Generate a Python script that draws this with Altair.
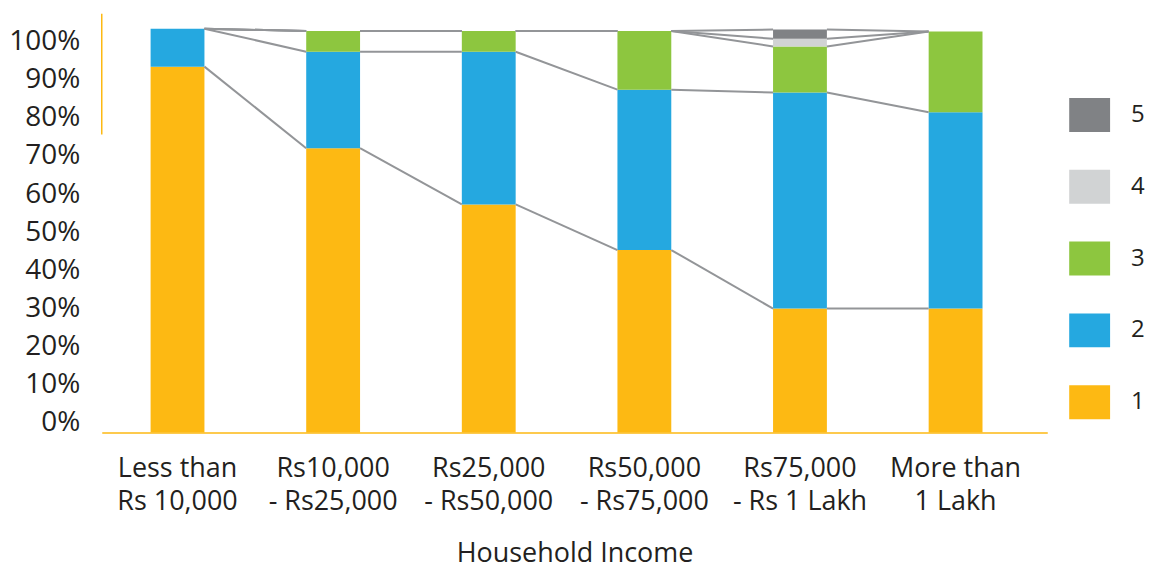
import altair as alt
import pandas as pd

# ---- data ----
categories = [
    "Less than\nRs 10,000",
    "Rs10,000\n- Rs25,000",
    "Rs25,000\n- Rs50,000",
    "Rs50,000\n- Rs75,000",
    "Rs75,000\n- Rs 1 Lakh",
    "More than\n1 Lakh",
]
series_names = ["1", "2", "3", "4", "5"]
s1 = [90.6, 70.4, 56.5, 45.2, 30.7, 30.7]
s2 = [9.4, 23.9, 37.8, 39.7, 53.5, 48.6]
s3 = [0.0, 5.1, 5.1, 14.5, 11.4, 20.0]
s4 = [0.0, 0.0, 0.0, 0.0, 1.9, 0.0]
s5 = [0.0, 0.0, 0.0, 0.0, 2.3, 0.0]
tick_values = [0, 10, 20, 30, 40, 50, 60, 70, 80, 90, 100]
accent_from = [73.8]
accent_to = [103.7]

colors = {"1": "#FDB913", "2": "#25A8E0", "3": "#8DC63F", "4": "#D1D3D4", "5": "#808285"}
all_series = [s1, s2, s3, s4, s5]

rows = []
for i, c in enumerate(categories):
    for k, vals in enumerate(all_series):
        rows.append({"cat": c, "series": series_names[k], "ord": k + 1, "value": vals[i]})
bars_df = pd.DataFrame(rows)

conn = []
for i in range(len(categories) - 1):
    ca = cb = 0.0
    for k, vals in enumerate(all_series):
        ca += vals[i]
        cb += vals[i + 1]
        conn.append({"cat": categories[i], "next": categories[i + 1], "ya": ca, "yb": cb})
conn_df = pd.DataFrame(conn)

FONT = "Open Sans"
TXT = "#231F20"
XTITLE = "Household Income"

xscale = alt.Scale(paddingInner=0.654, paddingOuter=0.365, align=0.43)
yscale = alt.Scale(domain=[0, 100], nice=False, zero=True)
legend_order = ["5", "4", "3", "2", "1"]

xaxis = alt.Axis(
    labelExpr="split(datum.label, '\\n')",
    labelAngle=0,
    ticks=False,
    domainColor="#FDB913",
    domainWidth=1.5,
    labelFont=FONT,
    labelFontSize=27,
    labelColor=TXT,
    labelLineHeight=33,
    labelPadding=23,
    labelLimit=400,
    titleFont=FONT,
    titleFontSize=27,
    titleFontWeight="normal",
    titleColor=TXT,
    titlePadding=26,
)

bars = alt.Chart(bars_df).mark_bar().encode(
    x=alt.X("cat:N", sort=categories, scale=xscale, title=XTITLE, axis=xaxis),
    y=alt.Y("value:Q", stack="zero", scale=yscale, axis=None),
    color=alt.Color(
        "series:N",
        scale=alt.Scale(domain=legend_order, range=[colors[s] for s in legend_order]),
        legend=alt.Legend(
            title=None,
            orient="none",
            legendX=970,
            legendY=66,
            padding=0,
            symbolType="M-1,-0.83H1V0.83H-1Z",
            symbolSize=1681,
            symbolStrokeWidth=0,
            symbolOpacity=1,
            labelFont=FONT,
            labelFontSize=24,
            labelColor=TXT,
            labelOffset=21,
            rowPadding=34,
        ),
    ),
    order=alt.Order("ord:Q", sort="ascending"),
)

rules = alt.Chart(conn_df).mark_rule(color="#939598", strokeWidth=2).encode(
    x=alt.X("cat:N", sort=categories, scale=xscale, bandPosition=1, title=XTITLE, axis=xaxis),
    x2=alt.X2("next:N", bandPosition=0, title=XTITLE),
    y=alt.Y("ya:Q", scale=yscale, axis=None),
    y2=alt.Y2("yb:Q"),
)

accent = alt.Chart(pd.DataFrame({"a": accent_from, "b": accent_to})).mark_rule(
    color="#FDB913", strokeWidth=1.5
).encode(
    x=alt.value(0),
    y=alt.Y("a:Q", scale=yscale, axis=None),
    y2=alt.Y2("b:Q"),
)

labels = alt.Chart(pd.DataFrame({"tick": tick_values})).mark_point(opacity=0).encode(
    y=alt.Y(
        "tick:Q",
        scale=alt.Scale(domain=[-2.6, 103.4], nice=False, zero=False),
        axis=alt.Axis(
            values=tick_values,
            labelExpr="datum.value + '%'",
            orient="left",
            domain=False,
            ticks=False,
            grid=False,
            title=None,
            labelFont=FONT,
            labelFontSize=28,
            labelColor=TXT,
            labelPadding=22,
        ),
    ),
)

chart = (
    alt.layer(alt.layer(bars, rules, accent), labels)
    .resolve_scale(y="independent")
    .properties(width=948, height=405, padding={"left": 0, "top": 4, "right": 0, "bottom": 0})
    .configure_view(stroke=None)
)

chart.save("out.html", embed_options={"renderer": "svg", "actions": False})
